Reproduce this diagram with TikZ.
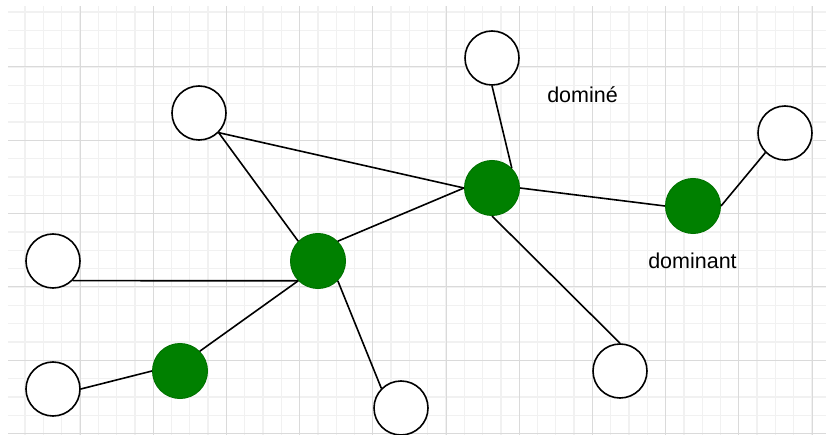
\documentclass[tikz,border=0pt]{standalone}
\usepackage{fontspec}
\setmainfont{Liberation Sans}
\begin{document}
\begin{tikzpicture}[x=1pt,y=-1pt,
  wnode/.style={circle,draw=black,line width=1.6pt,fill=white,minimum size=54pt,inner sep=0pt},
  gnode/.style={circle,draw=green!45!black,line width=1pt,fill={rgb,255:red,0;green,128;blue,0},minimum size=55pt,inner sep=0pt},
  edge/.style={draw=black,line width=1.6pt},
  minorline/.style={color={rgb,255:red,241;green,241;blue,241},line width=1.3pt},
  majorline/.style={color={rgb,255:red,218;green,218;blue,218},line width=1pt},
  lbl/.style={anchor=base,inner sep=0pt,font=\fontsize{21.5}{24}\selectfont,text=black}]
\useasboundingbox (0,0) rectangle (826,435);
\fill[white] (0,0) rectangle (826,435);
\begin{scope}
\clip (8,7) rectangle (826,435);
\foreach \i in {-4,...,43} {\draw[minorline] ({80+18.3*\i},0) -- ({80+18.3*\i},440);}
\foreach \i in {-4,...,21} {\draw[minorline] (0,{67+18.33*\i}) -- (830,{67+18.33*\i});}
\foreach \i in {-1,...,10} {\draw[majorline] ({80+73.2*\i},0) -- ({80+73.2*\i},440);}
\foreach \i in {-1,...,5} {\draw[majorline] (0,{67+73.3*\i}) -- (830,{67+73.3*\i});}
\end{scope}
\node[wnode] (tw)  at (492,58) {};
\node[gnode] (A)   at (492,188) {};
\node[gnode] (B)   at (693,206) {};
\node[wnode] (rw)  at (785,133) {};
\node[wnode] (tlw) at (199,113) {};
\node[gnode] (C)   at (318,261) {};
\node[wnode] (lw)  at (53,261) {};
\node[gnode] (D)   at (180,371) {};
\node[wnode] (blw) at (53,389) {};
\node[wnode] (bw)  at (401,408) {};
\node[wnode] (brw) at (620,371) {};
\draw[edge] (tw.south) -- (A.45);
\draw[edge] (tlw.-45) -- (A.west);
\draw[edge] (tlw.-45) -- (C.135);
\draw[edge] (A.east) -- (B.west);
\draw[edge] (B.east) -- (rw.-135);
\draw[edge] (C.45) -- (A.west);
\draw[edge] (A.south) -- (brw.north);
\draw[edge] (lw.-45) -- (C.-135);
\draw[edge] (C.-45) -- (bw.135);
\draw[edge] (C.-135) -- (D.45);
\draw[edge] (D.west) -- (blw.east);
\node[lbl] (t1) at (582.5,103) {dominé};
\node[lbl] (t2) at (692.5,269) {dominant};
\end{tikzpicture}
\end{document}
